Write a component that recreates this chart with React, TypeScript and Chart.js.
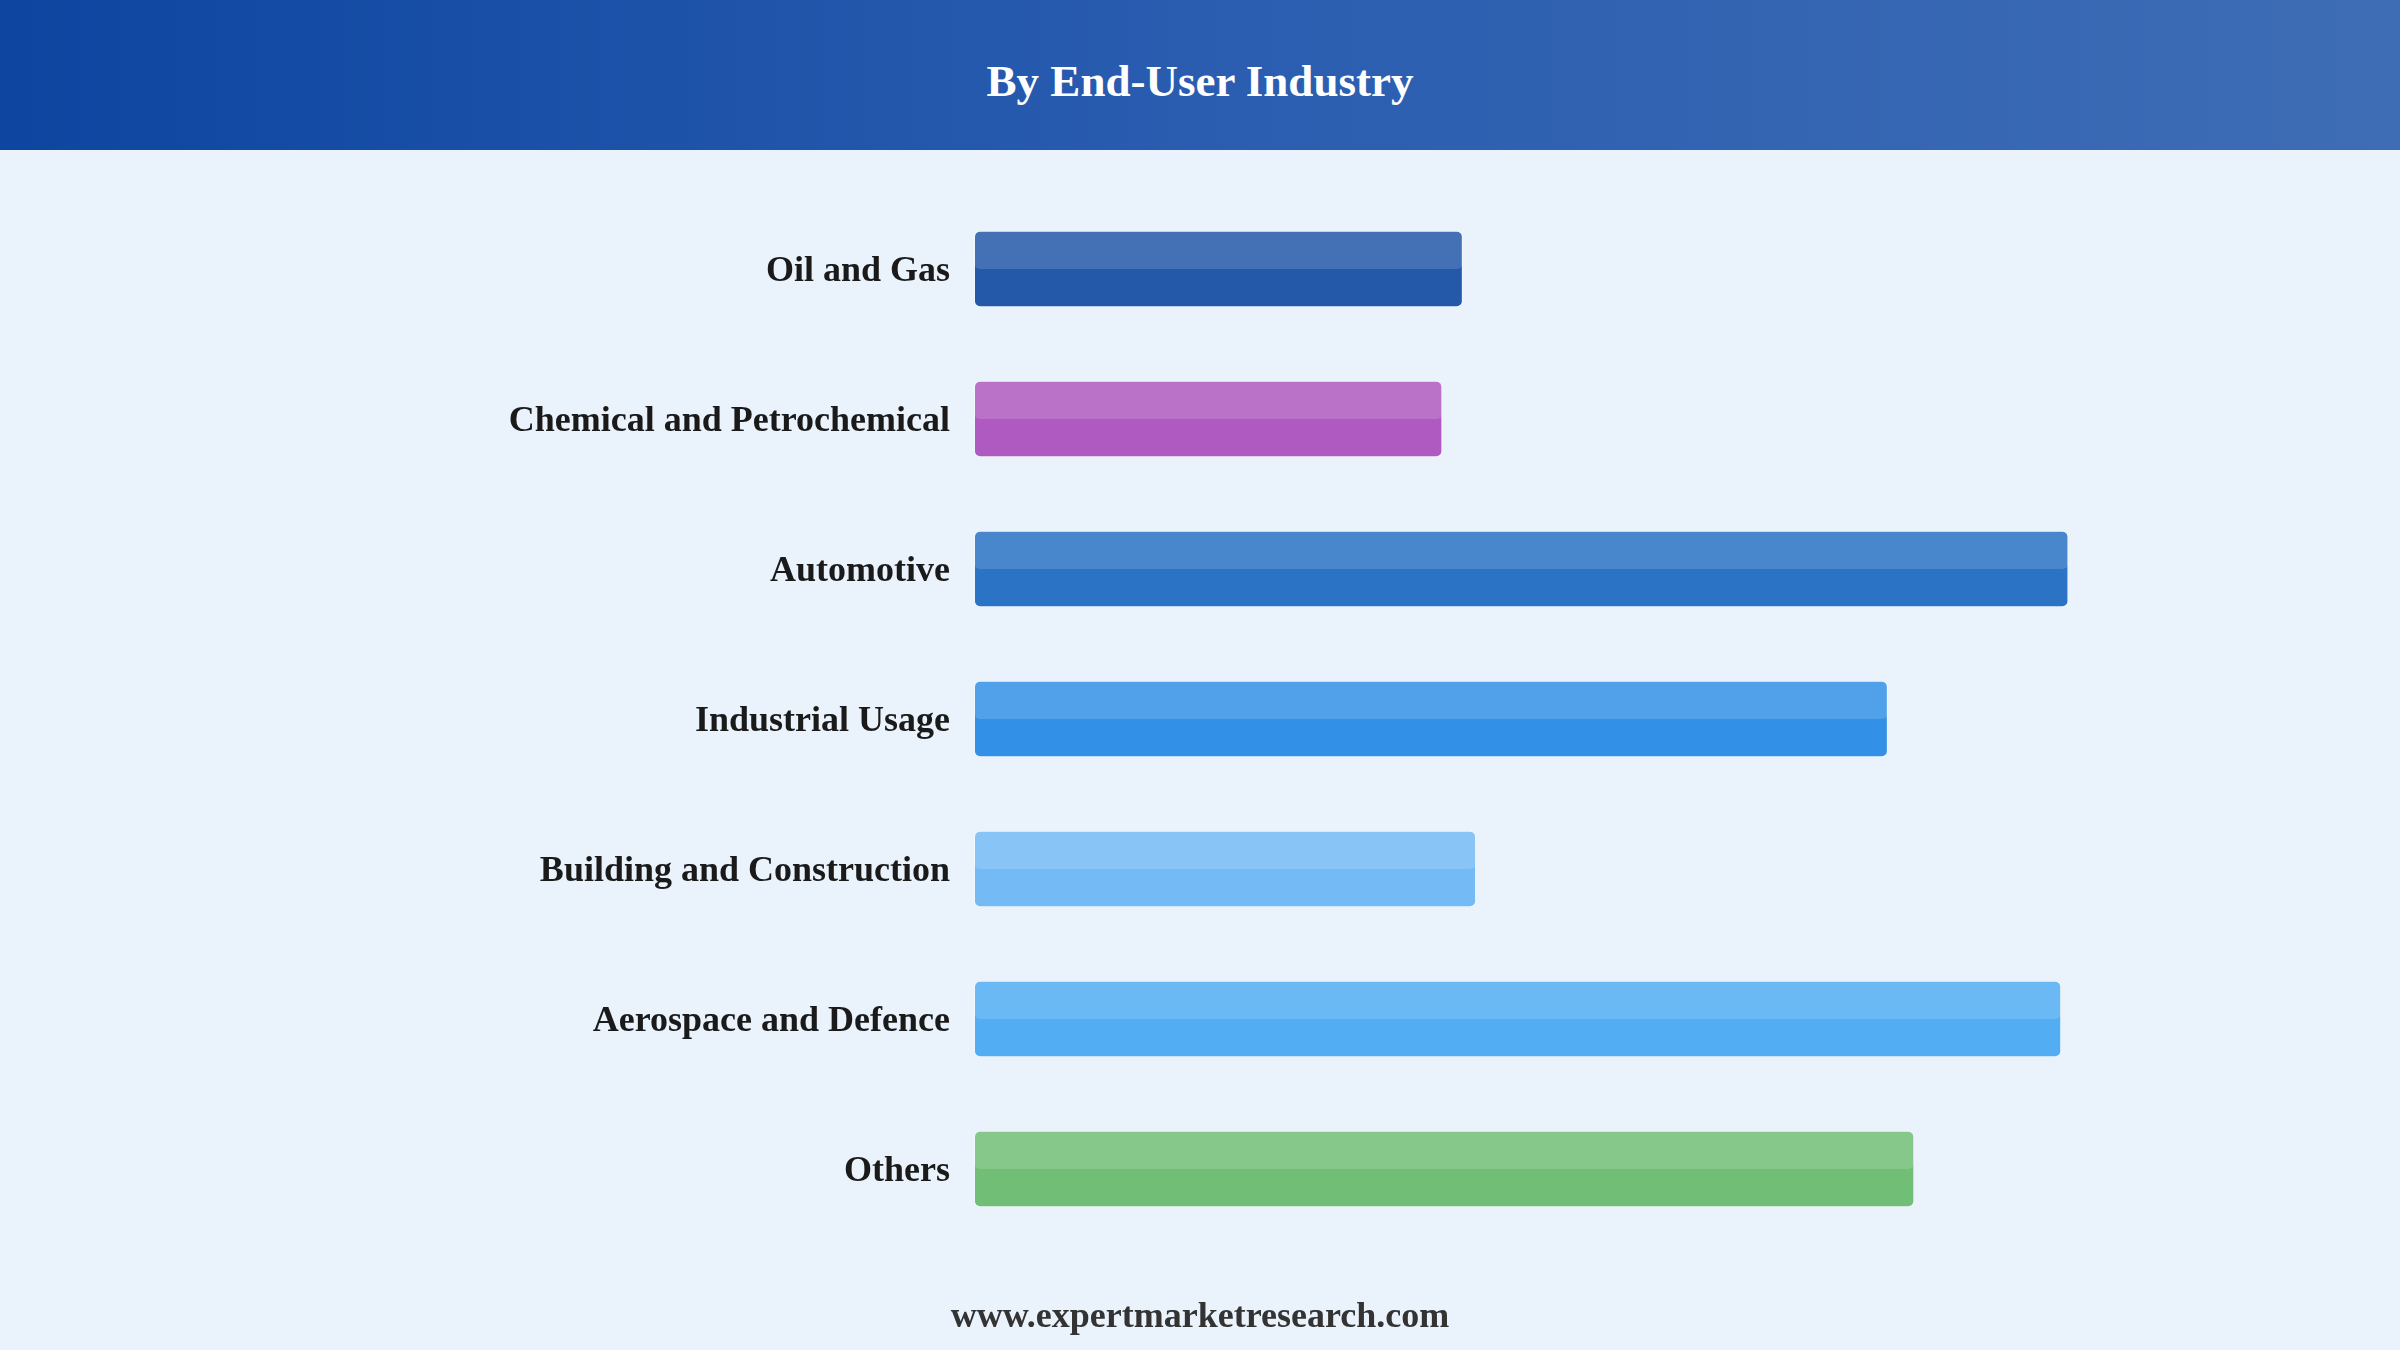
import React, { useEffect, useRef } from "react";
import { Chart, registerables } from "chart.js";

Chart.register(...registerables);

const titleText = "By End-User Industry";
const footerText = "www.expertmarketresearch.com";

const categories = [
  "Oil and Gas",
  "Chemical and Petrochemical",
  "Automotive",
  "Industrial Usage",
  "Building and Construction",
  "Aerospace and Defence",
  "Others",
];

const values = [40.6, 38.9, 90.9, 75.9, 41.7, 90.3, 78.1];

const barColors = [
  "#2458a8",
  "#ae5ac0",
  "#2a73c5",
  "#3291e6",
  "#74baf5",
  "#52adf2",
  "#71bf76",
];

const axisMax = 100;

const SERIF = "'Liberation Serif', 'Times New Roman', Times, serif";

const highlightPlugin = {
  id: "topHighlight",
  afterDatasetsDraw(chart: any) {
    const ctx = chart.ctx;
    chart.data.datasets.forEach((_ds: any, di: number) => {
      const meta = chart.getDatasetMeta(di);
      meta.data.forEach((el: any) => {
        const { x, y, base, height } = el.getProps(["x", "y", "base", "height"], true);
        const left = Math.min(x, base);
        const w = Math.abs(x - base);
        const top = y - height / 2;
        ctx.save();
        ctx.fillStyle = "rgba(255,255,255,0.15)";
        ctx.beginPath();
        if ((ctx as any).roundRect) {
          (ctx as any).roundRect(left, top, w, height / 2, 6);
        } else {
          ctx.rect(left, top, w, height / 2);
        }
        ctx.fill();
        ctx.restore();
      });
    });
  },
};

export default function App() {
  const canvasRef = useRef<HTMLCanvasElement | null>(null);

  useEffect(() => {
    document.body.style.margin = "0";
    const canvas = canvasRef.current;
    if (!canvas) return;
    const chart = new Chart(canvas, {
      type: "bar",
      data: {
        labels: categories,
        datasets: [
          {
            data: values,
            backgroundColor: barColors,
            borderColor: "rgba(255,255,255,0.35)",
            borderWidth: 1,
            borderRadius: 6,
            borderSkipped: false,
            categoryPercentage: 1,
            barPercentage: 0.51,
          },
        ],
      },
      options: {
        indexAxis: "y",
        animation: false,
        responsive: false,
        maintainAspectRatio: false,
        devicePixelRatio: 1,
        layout: { padding: { top: 194, bottom: 106, left: 0, right: 222 } },
        plugins: {
          legend: { display: false },
          tooltip: { enabled: false },
        },
        scales: {
          x: { display: false, min: 0, max: axisMax },
          y: {
            grid: { display: false },
            border: { display: false },
            ticks: {
              color: "#1a1a1a",
              padding: 16,
              labelOffset: 3,
              font: { family: SERIF, size: 36, weight: "bold" },
            },
            afterFit: (scale: any) => {
              scale.width = 974;
            },
          },
        },
      },
      plugins: [highlightPlugin],
    } as any);
    return () => chart.destroy();
  }, []);

  return (
    <div
      style={{
        position: "fixed",
        left: 0,
        top: 0,
        width: 2400,
        height: 1350,
        background: "#eaf2fc",
        overflow: "hidden",
      }}
    >
      <div
        style={{
          position: "absolute",
          left: 0,
          top: 0,
          width: 2400,
          height: 150,
          background: "linear-gradient(90deg, #0d45a0 0%, #2a5db0 50%, #3e6db5 100%)",
          display: "flex",
          alignItems: "center",
          justifyContent: "center",
        }}
      >
        <span
          style={{
            color: "#ffffff",
            fontFamily: SERIF,
            fontWeight: "bold",
            fontSize: 45,
            lineHeight: "45px",
            marginTop: 12,
          }}
        >
          {titleText}
        </span>
      </div>
      <canvas
        ref={canvasRef}
        width={2400}
        height={1350}
        style={{ position: "absolute", left: 0, top: 0, width: 2400, height: 1350 }}
      />
      <div
        style={{
          position: "absolute",
          left: 0,
          top: 1293,
          width: 2400,
          textAlign: "center",
          color: "#333333",
          fontFamily: SERIF,
          fontWeight: "bold",
          fontSize: 36,
          lineHeight: "44px",
        }}
      >
        {footerText}
      </div>
    </div>
  );
}
